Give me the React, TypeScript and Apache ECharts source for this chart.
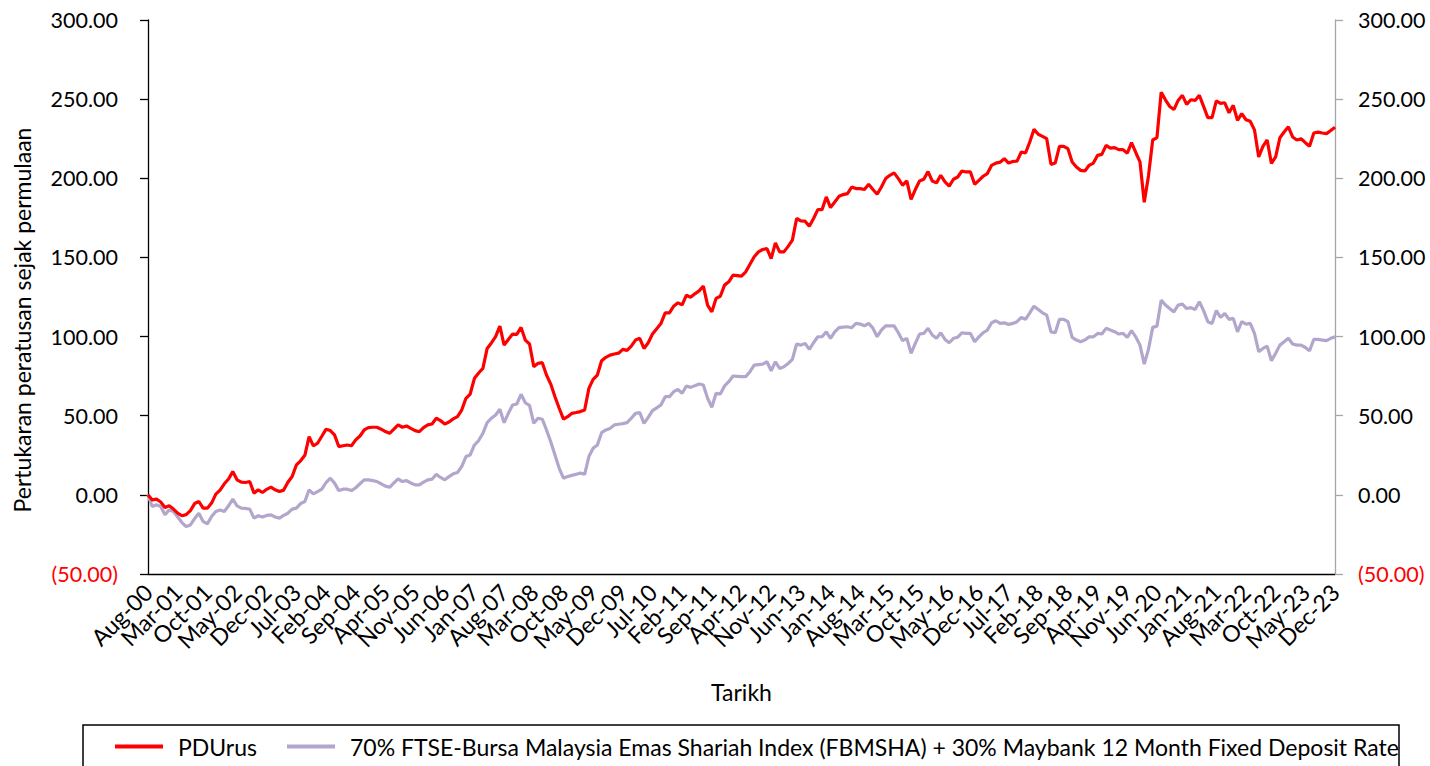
import React, { useEffect, useRef } from "react";
import * as echarts from "echarts";

const MONTHS = ["Jan", "Feb", "Mar", "Apr", "May", "Jun", "Jul", "Aug", "Sep", "Oct", "Nov", "Dec"];
const START_YEAR = 2000;
const START_MONTH = 7; // Aug
const MONTH_COUNT = 281; // Aug-00 .. Dec-23
const LABEL_STEP = 7;
const categories: string[] = [];
for (let k = 0; k < MONTH_COUNT; k++) {
  const m = (START_MONTH + k) % 12;
  const y = START_YEAR + Math.floor((START_MONTH + k) / 12);
  categories.push(`${MONTHS[m]}-${String(y % 100).padStart(2, "0")}`);
}

const seriesNames = [
  "PDUrus",
  "70% FTSE-Bursa Malaysia Emas Shariah Index (FBMSHA) + 30% Maybank 12 Month Fixed Deposit Rate",
];

const yTicks = [-50, 0, 50, 100, 150, 200, 250, 300];

const pdUrus: number[] = [
  0, -3.2, -2.7, -4.5, -8.0, -6.9, -9.0, -11.5, -13.2, -12.5,
  -10.0, -5.5, -4.2, -8.4, -8.4, -5.2, 0.5, 3.0, 7.0, 10.0,
  14.7, 9.5, 8.0, 7.8, 8.4, 1.1, 3.2, 1.5, 3.5, 4.9,
  3.2, 2.1, 3.0, 8.0, 11.6, 18.9, 21.5, 25.0, 36.8, 30.9,
  32.6, 37.0, 41.5, 40.6, 37.9, 30.5, 31.0, 31.5, 31.0, 34.7,
  37.2, 41.0, 42.5, 42.7, 42.7, 41.5, 40.0, 38.9, 41.5, 44.2,
  42.7, 43.5, 42.0, 40.6, 39.9, 42.5, 44.2, 44.8, 48.4, 46.9,
  44.8, 46.0, 48.0, 49.4, 53.6, 61.0, 63.7, 73.6, 77.0, 79.9,
  92.5, 96.0, 100.0, 106.6, 94.6, 98.2, 101.6, 101.4, 105.8, 97.8,
  95.3, 81.0, 83.1, 83.5, 75.7, 70.0, 62.0, 54.7, 47.8, 49.4,
  51.5, 52.0, 52.6, 53.6, 67.3, 73.0, 75.7, 84.7, 86.9, 88.3,
  89.0, 89.5, 91.9, 91.3, 94.0, 97.8, 98.9, 92.5, 96.1, 101.6,
  105.0, 108.3, 115.0, 115.0, 119.2, 121.3, 120.0, 126.2, 124.8, 127.0,
  128.9, 131.9, 119.9, 115.6, 124.1, 125.5, 132.5, 134.6, 138.8, 138.5,
  138.2, 140.9, 145.7, 150.4, 153.5, 155.0, 155.6, 149.3, 159.2, 153.5,
  153.5, 157.0, 160.9, 174.6, 173.1, 172.9, 169.7, 174.6, 180.2, 180.2,
  188.2, 181.5, 185.0, 188.6, 189.7, 190.3, 194.5, 193.5, 193.5, 192.9,
  196.2, 192.9, 189.9, 194.5, 199.8, 201.9, 203.4, 199.8, 195.6, 198.3,
  186.6, 192.9, 198.3, 199.4, 204.2, 198.3, 197.1, 201.9, 197.7, 195.0,
  199.4, 200.8, 204.6, 204.0, 204.0, 196.2, 198.7, 201.3, 203.0, 208.2,
  209.6, 210.2, 212.4, 209.6, 210.6, 210.8, 216.6, 216.0, 222.9, 230.9,
  227.8, 226.5, 225.0, 208.8, 209.6, 220.2, 220.2, 218.7, 210.3, 207.1,
  205.0, 204.6, 208.2, 209.6, 214.5, 215.1, 220.8, 219.1, 219.4, 218.1,
  218.1, 215.8, 222.5, 216.3, 210.4, 184.8, 201.5, 224.2, 225.7, 254.4,
  249.6, 245.4, 243.4, 249.2, 252.4, 246.7, 249.6, 249.2, 252.4, 245.4,
  238.3, 238.3, 248.9, 247.3, 247.7, 241.4, 246.1, 236.6, 240.9, 237.0,
  236.0, 230.6, 213.5, 220.2, 224.2, 209.4, 213.5, 225.6, 229.2, 232.5,
  226.1, 224.2, 225.0, 222.5, 220.2, 228.6, 229.2, 228.6, 228.2, 230.2,
  232.3,
];

const benchmark: number[] = [
  0, -7.4, -6.3, -7.4, -12.6, -9.5, -10.5, -14.0, -17.5, -20.0,
  -19.0, -15.0, -11.6, -16.8, -18.3, -13.7, -10.5, -9.5, -10.5, -6.9,
  -2.7, -6.9, -8.4, -8.6, -9.0, -14.7, -13.2, -14.0, -13.0, -12.6,
  -14.0, -14.7, -13.0, -11.6, -9.0, -8.4, -5.5, -4.2, 3.2, 0.6,
  2.0, 3.6, 7.8, 10.5, 7.4, 2.7, 3.6, 3.6, 2.7, 4.5,
  7.0, 9.5, 9.5, 9.0, 8.4, 7.0, 5.5, 4.8, 7.5, 10.1,
  8.4, 9.0, 7.5, 6.3, 6.3, 8.0, 9.5, 9.9, 13.0, 11.0,
  9.5, 11.5, 13.3, 14.1, 17.9, 24.2, 25.2, 31.5, 34.3, 38.9,
  45.6, 48.4, 50.5, 54.1, 45.6, 51.5, 56.8, 57.4, 63.5, 58.2,
  56.5, 45.2, 48.4, 47.8, 41.0, 33.6, 25.2, 16.8, 10.5, 11.6,
  12.3, 13.0, 13.7, 13.0, 24.2, 29.4, 31.5, 39.3, 41.0, 42.0,
  44.2, 44.6, 45.0, 45.6, 48.4, 51.5, 51.9, 45.2, 49.0, 53.2,
  55.0, 56.8, 62.0, 62.0, 65.2, 66.6, 64.2, 68.8, 67.9, 69.0,
  70.0, 69.4, 61.0, 55.3, 64.2, 63.7, 68.8, 71.5, 75.1, 74.9,
  74.7, 74.7, 77.8, 82.0, 82.3, 82.6, 84.1, 78.4, 84.1, 79.9,
  80.9, 83.0, 85.6, 95.3, 94.6, 95.7, 91.9, 96.1, 99.9, 99.9,
  103.0, 98.9, 103.0, 105.6, 106.0, 106.2, 105.6, 108.3, 107.9, 106.8,
  108.3, 105.3, 99.9, 104.1, 106.8, 106.8, 106.8, 102.4, 97.4, 98.9,
  89.4, 95.7, 101.6, 102.0, 105.2, 101.0, 98.9, 102.4, 98.2, 96.1,
  98.9, 99.6, 102.4, 102.0, 102.0, 96.7, 99.8, 102.4, 104.1, 108.7,
  110.0, 108.3, 108.7, 107.7, 108.3, 109.4, 112.1, 110.9, 115.0, 119.2,
  117.1, 115.0, 113.6, 103.0, 102.4, 110.9, 110.9, 109.4, 99.5, 97.8,
  96.7, 97.8, 99.8, 99.8, 102.0, 101.6, 105.2, 104.1, 103.1, 101.6,
  102.0, 99.5, 103.7, 99.8, 94.6, 82.6, 91.9, 105.8, 106.6, 123.0,
  119.9, 117.7, 115.6, 119.9, 120.5, 117.7, 118.3, 117.1, 122.0, 116.4,
  109.4, 108.3, 116.4, 112.1, 114.6, 110.9, 111.5, 103.0, 109.4, 107.9,
  108.3, 102.0, 90.5, 92.5, 94.0, 84.7, 89.4, 94.6, 96.7, 98.9,
  95.3, 94.6, 94.6, 93.1, 91.0, 98.2, 98.2, 97.8, 97.4, 98.9,
  99.8,
];

const FONT = "Lato";
const TEXT_SIZE = 23;
const TICK_SIZE = 21.5;

function fmt(v: number): string {
  if (v < 0) return `{neg|(${Math.abs(v).toFixed(2)})}`;
  return v.toFixed(2);
}

export default function App() {
  const ref = useRef<HTMLDivElement>(null);
  useEffect(() => {
    if (!ref.current) return;
    const chart = echarts.init(ref.current, undefined, { renderer: "svg" });
    const yAxisBase = (side: "left" | "right", lineColor: string, margin: number) => ({
      type: "value" as const,
      position: side,
      min: yTicks[0],
      max: yTicks[yTicks.length - 1],
      interval: 50,
      splitLine: { show: false },
      axisLine: { show: true, onZero: false, lineStyle: { color: lineColor, width: 1.3 } },
      axisTick: { show: true, length: 8, lineStyle: { color: lineColor, width: 1.3 } },
      axisLabel: {
        margin,
        color: "#000",
        fontFamily: FONT,
        fontSize: TICK_SIZE,
        formatter: (v: number) => fmt(v),
        rich: { neg: { color: "#ff0000", fontFamily: FONT, fontSize: TICK_SIZE } },
      },
    });
    chart.setOption({
      animation: false,
      backgroundColor: "#fff",
      grid: { left: 148, right: 95, top: 20, bottom: 192, containLabel: false },
      legend: {
        left: 115,
        top: 735,
        padding: 0,
        icon: "rect",
        itemWidth: 48,
        itemHeight: 4,
        itemGap: 30,
        textStyle: {
          fontFamily: FONT,
          fontSize: TEXT_SIZE,
          color: "#000",
          padding: [0, 0, 0, 10],
        },
        data: seriesNames,
      },
      graphic: [
        {
          type: "rect",
          shape: { x: 83, y: 725, width: 1316, height: 60 },
          style: { fill: "none", stroke: "#000", lineWidth: 1.5 },
          silent: true,
        },
        {
          type: "text",
          x: 22,
          y: 320,
          rotation: Math.PI / 2,
          style: {
            text: "Pertukaran peratusan sejak permulaan",
            fontFamily: FONT,
            fontSize: TEXT_SIZE,
            fill: "#000",
            align: "center",
            verticalAlign: "middle",
          },
        },
      ],
      xAxis: {
        type: "category",
        data: categories,
        boundaryGap: false,
        name: "Tarikh",
        nameLocation: "middle",
        nameGap: 106,
        nameTextStyle: { fontFamily: FONT, fontSize: TEXT_SIZE, color: "#000" },
        axisLine: { show: true, onZero: false, lineStyle: { color: "#000", width: 1.3 } },
        axisTick: { show: false },
        axisLabel: {
          interval: 0,
          rotate: 45,
          margin: 14,
          hideOverlap: false,
          formatter: (value: string, index: number) => (index % LABEL_STEP === 0 ? value : ""),
          fontFamily: FONT,
          fontSize: TEXT_SIZE,
          color: "#000",
        },
        splitLine: { show: false },
      },
      yAxis: [yAxisBase("left", "#000", 30), yAxisBase("right", "#a6a6a6", 23)],
      series: [
        {
          name: seriesNames[0],
          type: "line",
          data: pdUrus,
          yAxisIndex: 0,
          showSymbol: false,
          symbol: "none",
          lineStyle: { color: "#ff0000", width: 3.2 },
          itemStyle: { color: "#ff0000" },
          z: 3,
        },
        {
          name: seriesNames[1],
          type: "line",
          data: benchmark,
          yAxisIndex: 0,
          showSymbol: false,
          symbol: "none",
          lineStyle: { color: "#b3a6cc", width: 3.2 },
          itemStyle: { color: "#b3a6cc" },
          z: 2,
        },
      ],
    });
    return () => chart.dispose();
  }, []);
  return (
    <div
      ref={ref}
      style={{ position: "fixed", left: 0, top: 0, width: 1430, height: 766, background: "#fff" }}
    />
  );
}
